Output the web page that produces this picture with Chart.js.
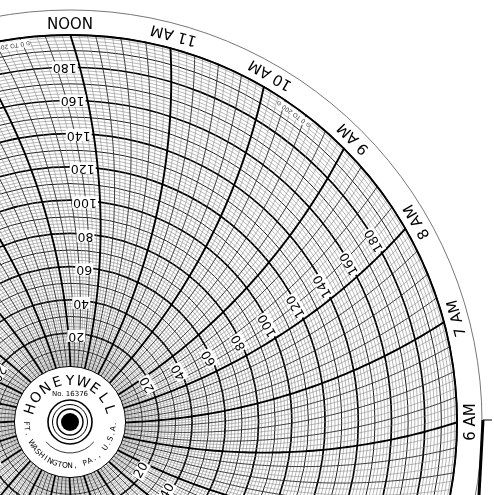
<!DOCTYPE html>
<html><head><meta charset="utf-8">
<script src="https://cdn.jsdelivr.net/npm/chart.js@4"></script>
<style>html,body{margin:0;padding:0;background:#fff}#wrap{width:494px;height:495px}</style>
</head><body><div id="wrap"><canvas id="c"></canvas></div>
<script>
// ---- data ----
const hourTimes = [12, 11, 10, 9, 8, 7, 6];
const hourLabels = ['NOON', '11 AM', '10 AM', '9 AM', '8 AM', '7 AM', '6 AM'];
const ringLabelValues = [20, 40, 60, 80, 100, 120, 140, 160, 180];
const ringLabelTimes = [12, 8, 4, 0, 20, 16];
const rangeMin = 0, rangeMax = 200;
const hubTitle = 'HONEYWELL';
const hubNumber = 'No. 16376';
const hubFooter = 'FT. WASHINGTON, PA., U.S.A.';
const rangeNote = '0 TO 200';

// ---- geometry (in chart units) ----
const CX = 70, CY = 422, R0 = 55.6, RG = 388, RB = 412, RA = 630;
const rOf = v => R0 + (v - rangeMin) / (rangeMax - rangeMin) * (RG - R0);
const thetaOf = t => (-90 + (12 - t) * 15) * Math.PI / 180;

function arcPoints(t, n) {
  const th = thetaOf(t);
  const px = CX + RG * Math.cos(th), py = CY + RG * Math.sin(th);
  const mx = (CX + px) / 2, my = (CY + py) / 2;
  const d = Math.sqrt(RA * RA - (RG / 2) * (RG / 2));
  const cwx = -Math.sin(th), cwy = Math.cos(th);
  const qx = mx - d * cwx, qy = my - d * cwy;
  let a1 = Math.atan2(CY - qy, CX - qx), a2 = Math.atan2(py - qy, px - qx);
  let da = a2 - a1; while (da > Math.PI) da -= 2 * Math.PI; while (da < -Math.PI) da += 2 * Math.PI;
  const pts = [];
  for (let i = 0; i <= n; i++) { const a = a1 + da * i / n; pts.push([qx + RA * Math.cos(a), qy + RA * Math.sin(a)]); }
  return pts;
}
function pointAtRadius(t, r) {
  const pts = arcPoints(t, 600);
  let best = pts[0], bd = 1e9;
  for (const p of pts) { const dd = Math.abs(Math.hypot(p[0] - CX, p[1] - CY) - r); if (dd < bd) { bd = dd; best = p; } }
  return best;
}

const chartPlugin = {
  id: 'circchart',
  beforeDatasetsDraw(chart) {
    const ctx = chart.ctx, xs = chart.scales.x, ys = chart.scales.y;
    const X = v => xs.getPixelForValue(v), Y = v => ys.getPixelForValue(v);
    const S = Math.abs(X(1) - X(0));
    ctx.save();
    ctx.fillStyle = '#fff'; ctx.fillRect(0, 0, chart.width, chart.height);
    ctx.strokeStyle = '#777'; ctx.lineWidth = 1;
    ctx.beginPath(); ctx.arc(X(CX), Y(CY), RB * S, 0, 2 * Math.PI); ctx.stroke();
    ctx.save();
    ctx.beginPath(); ctx.arc(X(CX), Y(CY), RG * S, 0, 2 * Math.PI); ctx.clip();
    for (let v = rangeMin + 2; v <= rangeMax; v += 2) {
      let w = 0.55, col = '#7a7a7a';
      if (v % 20 === 0) { w = 1.7; col = '#000'; } else if (v % 10 === 0) { w = 1; col = '#1a1a1a'; }
      ctx.strokeStyle = col; ctx.lineWidth = w;
      ctx.beginPath(); ctx.arc(X(CX), Y(CY), rOf(v) * S, 0, 2 * Math.PI); ctx.stroke();
    }
    for (let m = 0; m < 24 * 60; m += 5) {
      const t = m / 60;
      let w = 0.55, col = '#858585';
      if (m % 60 === 0) { w = 1.9; col = '#000'; } else if (m % 15 === 0) { w = 0.9; col = '#2a2a2a'; }
      ctx.strokeStyle = col; ctx.lineWidth = w;
      const pts = arcPoints(t, 80);
      ctx.beginPath();
      pts.forEach((p, i) => i ? ctx.lineTo(X(p[0]), Y(p[1])) : ctx.moveTo(X(p[0]), Y(p[1])));
      ctx.stroke();
    }
    ctx.strokeStyle = '#000'; ctx.lineWidth = 2;
    ctx.beginPath(); ctx.arc(X(CX), Y(CY), (RG - 1) * S, 0, 2 * Math.PI); ctx.stroke();
    ctx.restore();

    ctx.font = '12.5px "DejaVu Sans"'; ctx.textAlign = 'center'; ctx.textBaseline = 'middle';
    for (const t of ringLabelTimes) {
      const th = thetaOf(t);
      for (const v of ringLabelValues) {
        const p = pointAtRadius(t, rOf(v));
        const lx = p[0] + 15 * Math.sin(th), ly = p[1] - 15 * Math.cos(th);
        ctx.save(); ctx.translate(X(lx), Y(ly)); ctx.rotate(th - Math.PI / 2);
        const tw = ctx.measureText(String(v)).width;
        ctx.fillStyle = '#fff'; ctx.fillRect(-tw / 2 - 1, -6, tw + 2, 12);
        ctx.fillStyle = '#000'; ctx.fillText(String(v), 0, 0);
        ctx.restore();
      }
    }
    ctx.font = '15px "DejaVu Sans"';
    hourTimes.forEach((t, i) => {
      const th = thetaOf(t);
      const lx = CX + 401 * Math.cos(th), ly = CY + 401 * Math.sin(th);
      ctx.save(); ctx.translate(X(lx), Y(ly)); ctx.rotate(th - Math.PI / 2);
      ctx.fillStyle = '#000'; ctx.fillText(hourLabels[i], 0, 0); ctx.restore();
    });
    ctx.font = '6px "DejaVu Sans"';
    [12.6, 9.6].forEach(t => {
      const th = thetaOf(t);
      const lx = CX + 381 * Math.cos(th), ly = CY + 381 * Math.sin(th);
      ctx.save(); ctx.translate(X(lx), Y(ly)); ctx.rotate(th - Math.PI / 2);
      ctx.fillStyle = '#fff'; ctx.fillRect(-20, -4, 40, 8);
      ctx.fillStyle = '#333'; ctx.fillText('\u2299 ' + rangeNote + ' \u2299', 0, 0); ctx.restore();
    });

    ctx.fillStyle = '#fff'; ctx.strokeStyle = '#000'; ctx.lineWidth = 1;
    ctx.beginPath(); ctx.arc(X(CX), Y(CY), R0 * S, 0, 2 * Math.PI); ctx.fill(); ctx.stroke();
    [[22, 1.6], [17.5, 1], [13, 1.4]].forEach(([r, w]) => {
      ctx.lineWidth = w; ctx.beginPath(); ctx.arc(X(CX), Y(CY), r * S, 0, 2 * Math.PI); ctx.stroke();
    });
    ctx.fillStyle = '#000'; ctx.beginPath(); ctx.arc(X(CX), Y(CY), 9 * S, 0, 2 * Math.PI); ctx.fill();
    ctx.lineWidth = 0.8; ctx.beginPath(); ctx.arc(X(CX), Y(CY), 31 * S, Math.PI * 0.22, Math.PI * 0.78); ctx.stroke();
    function curved(text, r, center, spacing, top, font) {
      ctx.font = font; ctx.fillStyle = '#000';
      const n = text.length;
      for (let i = 0; i < n; i++) {
        const off = (i - (n - 1) / 2) * spacing;
        const a = top ? center + off : center - off;
        ctx.save();
        ctx.translate(X(CX + r * Math.cos(a)), Y(CY + r * Math.sin(a)));
        ctx.rotate(top ? a + Math.PI / 2 : a - Math.PI / 2);
        ctx.fillText(text[i], 0, 0); ctx.restore();
      }
    }
    curved(hubTitle, 41, -Math.PI / 2, 0.315, true, '14px "DejaVu Sans"');
    curved(hubFooter, 44, Math.PI / 2, 0.118, false, '7.5px "DejaVu Sans"');
    ctx.font = '7px "DejaVu Sans"'; ctx.fillStyle = '#000';
    ctx.fillText(hubNumber, X(CX), Y(CY - 28));
    ctx.lineWidth = 3; ctx.beginPath(); ctx.moveTo(X(483), Y(420)); ctx.lineTo(X(479), Y(495)); ctx.stroke();
    ctx.lineWidth = 1; ctx.beginPath(); ctx.moveTo(X(483), Y(420)); ctx.lineTo(X(492), Y(420)); ctx.stroke();
    ctx.restore();
  }
};

new Chart(document.getElementById('c'), {
  type: 'scatter',
  data: { datasets: [{ data: [], pointRadius: 0 }] },
  options: {
    responsive: true, maintainAspectRatio: false, animation: false,
    layout: { padding: 0 },
    plugins: { legend: { display: false }, tooltip: { enabled: false } },
    scales: {
      x: { type: 'linear', min: 0, max: 494, display: false },
      y: { type: 'linear', min: 0, max: 495, reverse: true, display: false }
    }
  },
  plugins: [chartPlugin]
});
</script></body></html>
